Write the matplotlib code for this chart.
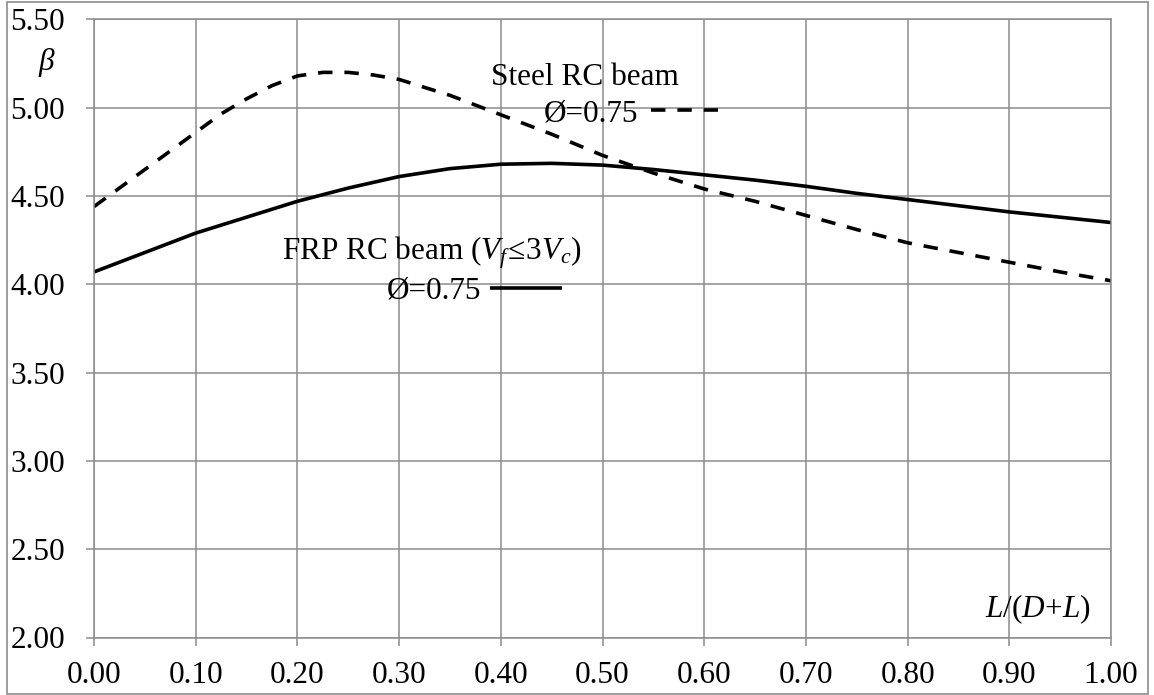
import matplotlib
matplotlib.use("Agg")
import matplotlib.pyplot as plt
from matplotlib.patches import Rectangle

plt.rcParams['font.family'] = ['Liberation Serif', 'DejaVu Serif']
plt.rcParams['mathtext.fontset'] = 'custom'
plt.rcParams['mathtext.rm'] = 'Liberation Serif'
plt.rcParams['mathtext.it'] = 'Liberation Serif:italic'
plt.rcParams['mathtext.bf'] = 'Liberation Serif:bold'

# ---- data ----
x_steel = [0.00, 0.05, 0.10, 0.125, 0.15, 0.175, 0.20, 0.225, 0.25, 0.275, 0.30,
           0.35, 0.40, 0.45, 0.50, 0.55, 0.60, 0.65, 0.70, 0.75, 0.80, 0.85,
           0.90, 0.95, 1.00]
beta_steel = [4.44, 4.65, 4.86, 4.965, 5.05, 5.125, 5.18, 5.20, 5.20, 5.185, 5.16,
              5.07, 4.96, 4.85, 4.73, 4.63, 4.54, 4.47, 4.39, 4.31, 4.235, 4.18,
              4.125, 4.07, 4.02]
x_frp = [0.00, 0.05, 0.10, 0.15, 0.20, 0.25, 0.30, 0.35, 0.40, 0.45, 0.50,
         0.55, 0.60, 0.65, 0.70, 0.75, 0.80, 0.85, 0.90, 0.95, 1.00]
beta_frp = [4.07, 4.18, 4.29, 4.38, 4.47, 4.545, 4.61, 4.655, 4.68, 4.685, 4.675,
            4.65, 4.62, 4.59, 4.555, 4.515, 4.48, 4.445, 4.41, 4.38, 4.35]
x_ticks = [0.0, 0.1, 0.2, 0.3, 0.4, 0.5, 0.6, 0.7, 0.8, 0.9, 1.0]
y_ticks = [2.0, 2.5, 3.0, 3.5, 4.0, 4.5, 5.0, 5.5]
steel_title = "Steel RC beam"
frp_title = r"FRP RC beam $\mathit{(V_f}\!\leq\!\mathit{3V_c)}$"
phi_label = "Ø=0.75"

W, H = 1154, 695
fig = plt.figure(figsize=(W / 100, H / 100), dpi=100)
ax = fig.add_axes([94 / W, 1 - 637.5 / H, (1111 - 94) / W, (637.5 - 19.4) / H])

grid_c = '#8c8c8c'
fs = 22.5

steel_line, = ax.plot(x_steel, beta_steel, color='black', lw=2.6,
                      linestyle=(0, (4.0, 3.3)), dash_capstyle='butt',
                      solid_joinstyle='round')
frp_line, = ax.plot(x_frp, beta_frp, color='black', lw=2.6,
                    solid_capstyle='butt', solid_joinstyle='round')

ax.set_xlim(0, 1)
ax.set_ylim(2.0, 5.5)
ax.set_xticks(x_ticks)
ax.set_yticks(y_ticks)
ax.set_xticklabels([f"{v:.2f}" for v in x_ticks])
ax.set_yticklabels([f"{v:.2f}" for v in y_ticks])
ax.grid(True, color=grid_c, lw=1.1)
ax.set_axisbelow(True)
for s in ax.spines.values():
    s.set_color(grid_c)
    s.set_linewidth(1.1)
ax.tick_params(axis='both', direction='out', length=6, width=1.1,
               color=grid_c, labelsize=fs, labelcolor='black')
ax.tick_params(axis='x', pad=11)
ax.tick_params(axis='y', pad=15)

# axis captions inside/near plot
ax.text(-0.0462, 0.931, r"$\beta$", transform=ax.transAxes, fontsize=fs,
        ha='center', va='center', clip_on=False)
ax.text(0.9794, 0.0332, r"$L$/($D$+$L$)", transform=ax.transAxes, fontsize=fs,
        ha='right', va='baseline')

# series annotations
ax.text(0.4828, 0.894, steel_title, transform=ax.transAxes, fontsize=fs,
        ha='center', va='baseline')
ax.text(0.1848, 0.6109, frp_title, transform=ax.transAxes, fontsize=fs,
        ha='left', va='baseline')

leg1 = ax.legend([steel_line], [phi_label], loc='center right',
                 bbox_to_anchor=(0.6136, 0.8475), bbox_transform=ax.transAxes,
                 frameon=False, markerfirst=False, fontsize=fs,
                 handlelength=2.14, handletextpad=0.42, borderpad=0,
                 borderaxespad=0)
ax.add_artist(leg1)
leg2 = ax.legend([frp_line], [phi_label], loc='center right',
                 bbox_to_anchor=(0.4602, 0.5605), bbox_transform=ax.transAxes,
                 frameon=False, markerfirst=False, fontsize=fs,
                 handlelength=2.3, handletextpad=0.3, borderpad=0,
                 borderaxespad=0)

# outer chart frame
fig.patches.append(Rectangle((7 / W, 1 / H), (1148 - 7) / W, (H - 3) / H,
                             transform=fig.transFigure, fill=False,
                             edgecolor='#8c8c8c', lw=1.2))

fig.savefig("out.png", dpi=100)
